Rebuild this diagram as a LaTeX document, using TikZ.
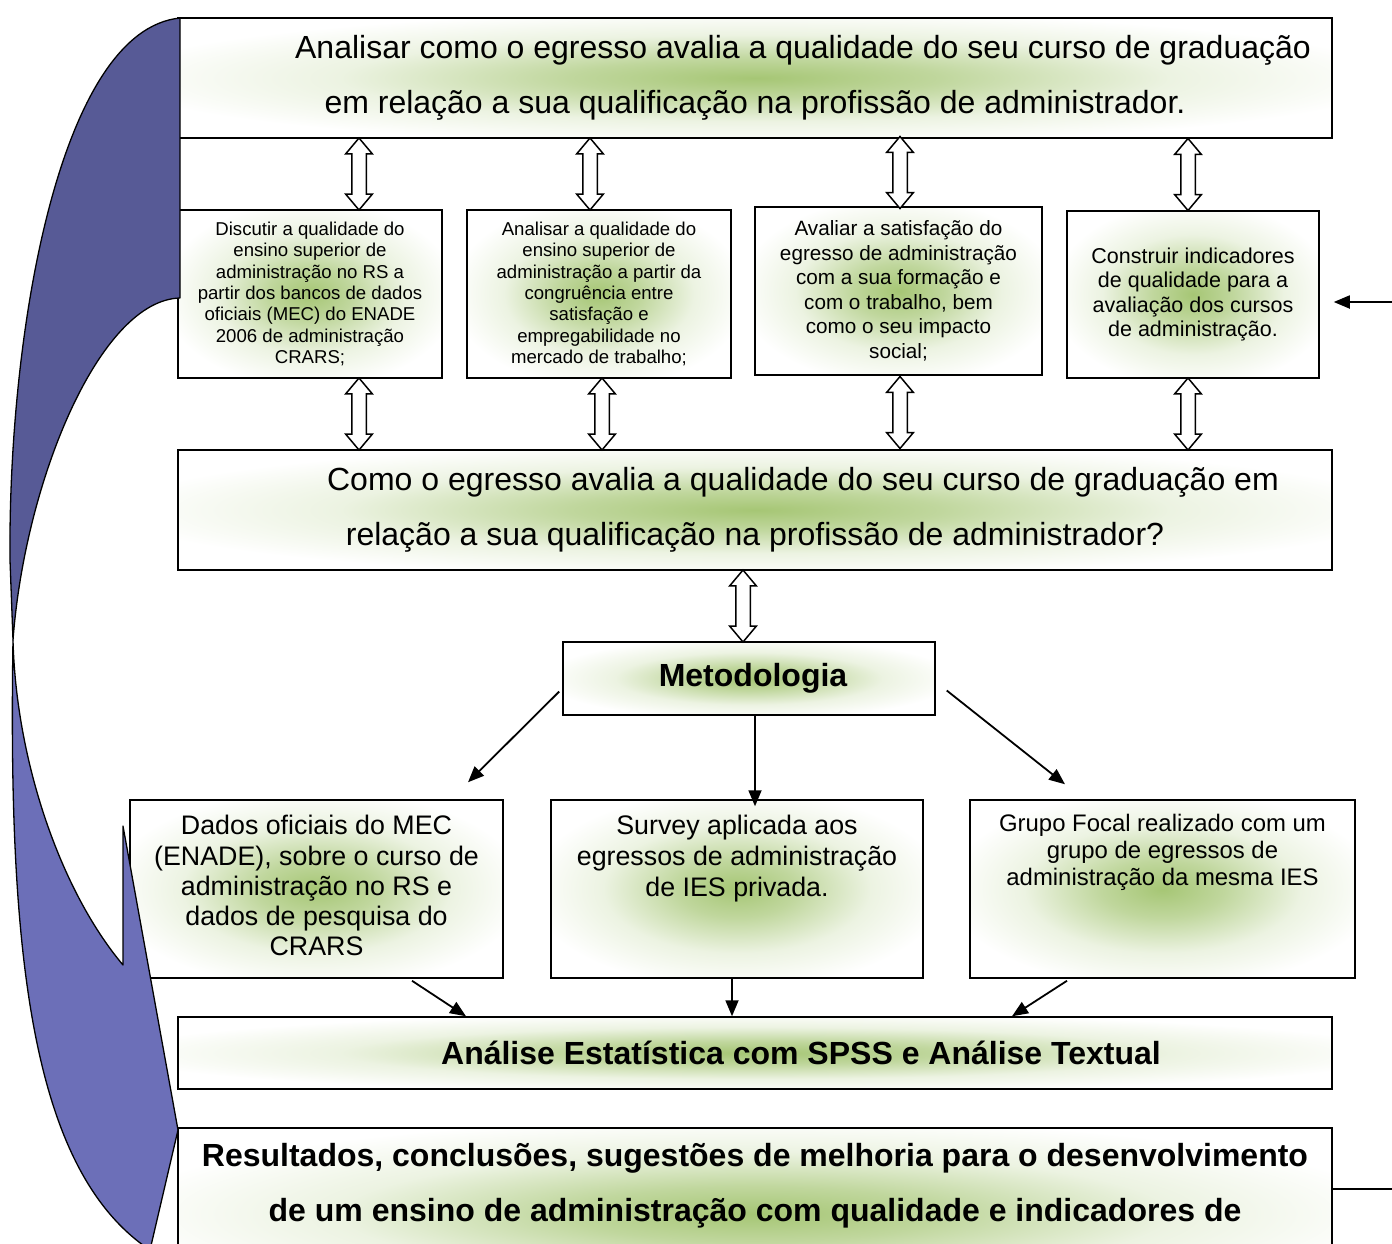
\documentclass[tikz,border=0pt]{standalone}
\usepackage{xcolor}
\usepackage{fontspec}
\setmainfont{Liberation Sans}
\usetikzlibrary{positioning,calc,arrows.meta,shapes.arrows}

\definecolor{glowgreen}{RGB}{150,188,92}
\definecolor{backblue}{RGB}{87,90,150}
\definecolor{frontblue}{RGB}{108,111,184}

\pgfdeclareradialshading{glow}{\pgfpointorigin}{%
  color(0bp)=(glowgreen!85!white);
  color(8bp)=(glowgreen!60!white);
  color(18bp)=(glowgreen!18!white);
  color(28bp)=(white);
  color(50bp)=(white)}

\begin{document}
\begin{tikzpicture}[x=1pt, y=-1pt,
    box/.style={draw, line width=1.5pt, shade, shading=glow, align=center, inner sep=0pt},
    txt/.style={align=center, inner sep=0pt},
    dblarrow/.style={double arrow, draw, fill=white, line width=1.5pt, rotate=90,
      minimum height=72pt, inner xsep=0pt, inner ysep=6.5pt,
      double arrow head extend=6pt, double arrow tip angle=80},
    arr/.style={line width=1.8pt, -{Triangle[length=16pt,width=13pt]}}]

  % Page frame
  \useasboundingbox (0,0) rectangle (1392,1243);
  \clip (0,0) rectangle (1392,1243);

  % Draw the general objective
  \node[box, minimum width=1154pt, minimum height=120pt, font=\fontsize{32}{55}\selectfont] (goal) at (755,78)
    {\hspace*{96pt}Analisar como o egresso avalia a qualidade do seu curso de graduação\\
     em relação a sua qualificação na profissão de administrador.};

  % Draw the specific objectives
  \node[box, minimum width=264pt, minimum height=168pt, font=\fontsize{18.6}{21.4}\selectfont] (b1) at (310,294)
    {Discutir a qualidade do\\ensino superior de\\administração no RS a\\partir dos bancos de dados\\oficiais (MEC) do ENADE\\2006 de administração\\CRARS;};
  \node[box, minimum width=264pt, minimum height=168pt, font=\fontsize{18.6}{21.4}\selectfont] (b2) at (599,294)
    {Analisar a qualidade do\\ensino superior de\\administração a partir da\\congruência entre\\satisfação e\\empregabilidade no\\mercado de trabalho;};
  \node[box, minimum width=287pt, minimum height=168pt, font=\fontsize{20.7}{24.5}\selectfont] (b3) at (898.5,291)
    {Avaliar a satisfação do\\egresso de administração\\com a sua formação e\\com o trabalho, bem\\como o seu impacto\\social;};
  \node[box, minimum width=252pt, minimum height=167pt, font=\fontsize{21.5}{24.6}\selectfont] (b4) at (1193,294.5)
    {Construir indicadores\\de qualidade para a\\avaliação dos cursos\\de administração.};

  % Draw the research question
  \node[box, minimum width=1154pt, minimum height=120pt, font=\fontsize{32}{55}\selectfont] (quest) at (755,510)
    {\hspace*{96pt}Como o egresso avalia a qualidade do seu curso de graduação em\\
     relação a sua qualificação na profissão de administrador?};

  % Draw the method box
  \node[box, minimum width=372pt, minimum height=73pt, font=\fontsize{32}{40}\selectfont\bfseries] (meth) at (749,678.5)
    {\hspace*{8pt}Metodologia};

  % Draw the data sources
  \node[box, minimum width=373pt, minimum height=178pt] (d1) at (316.5,889) {};
  \node[box, minimum width=372pt, minimum height=178pt] (d2) at (737,889) {};
  \node[box, minimum width=385pt, minimum height=178pt] (d3) at (1162.5,889) {};
  \node[txt, below=16pt of d1.north, font=\fontsize{26.8}{30.2}\selectfont] (d1txt)
    {Dados oficiais do MEC\\(ENADE), sobre o curso de\\administração no RS e\\dados de pesquisa do\\CRARS};
  \node[txt, below=16pt of d2.north, font=\fontsize{26.8}{30.6}\selectfont] (d2txt)
    {Survey aplicada aos\\egressos de administração\\de IES privada.};
  \node[txt, below=15pt of d3.north, font=\fontsize{23.9}{27}\selectfont] (d3txt)
    {Grupo Focal realizado com um\\grupo de egressos de\\administração da mesma IES};

  % Draw the analysis and results
  \node[box, minimum width=1154pt, minimum height=72pt, font=\fontsize{32}{40}\selectfont\bfseries] (anal) at (755,1053)
    {\hspace*{92pt}Análise Estatística com SPSS e Análise Textual};
  \node[box, minimum width=1154pt, minimum height=172pt] (res) at (755,1214) {};
  \node[txt, below=15.5pt of res.north, font=\fontsize{32}{55}\selectfont\bfseries] (restxt)
    {Resultados, conclusões, sugestões de melhoria para o desenvolvimento\\
     de um ensino de administração com qualidade e indicadores de};

  % Draw the double arrows
  \foreach \x/\up/\down [count=\i] in {359/goal/b1, 590/goal/b2, 900/goal/b3, 1188/goal/b4,
      359/b1/quest, 602/b2/quest, 900/b3/quest, 1188/b4/quest, 743/quest/meth}
    \path (\up.south -| \x,0) -- (\down.north -| \x,0) node[midway, dblarrow] (dbl\i) {};

  % Draw the method arrows
  \draw[arr] ($(meth.west)+(-3,13)$) -- ($(d1.north)+(151.5,-17)$);
  \draw[arr] (meth.south -| 755,0) -- ($(d2.north -| 755,0)+(0,7)$);
  \draw[arr] ($(meth.east)+(11,12)$) -- ($(d3.north)+(-97.5,-15)$);
  \draw[arr] ($(d1.south)+(95.5,2)$) -- ($(anal.north)+(-289,0)$);
  \draw[arr] (d2.south -| 732,0) -- (anal.north -| 732,0);
  \draw[arr] ($(d3.south)+(-95.5,2)$) -- ($(anal.north)+(257,0)$);

  % Draw the feedback line
  \coordinate (backin) at (1392,302);
  \coordinate (backout) at (1392,1189);
  \draw[arr, shorten >=14pt] (backin) -- (backin -| b4.east);
  \draw[line width=1.5pt] (res.east |- backout) -- (backout);

  % Draw the curved arrow: back part, then front part
  \filldraw[fill=backblue, draw=black, line width=1.3pt, line join=round]
    (180,18) .. controls (60,30) and (8,330) .. (10,560) -- (13,640)
    .. controls (25,480) and (100,300) .. (180,298) -- cycle;
  \filldraw[fill=frontblue, draw=black, line width=1.3pt, line join=round]
    (13,640) .. controls (16,760) and (60,890) .. (123,965) -- (123,826) -- (178,1130) -- (150,1250)
    .. controls (30,1170) and (8,950) .. (13,640) -- cycle;

\end{tikzpicture}
\end{document}
